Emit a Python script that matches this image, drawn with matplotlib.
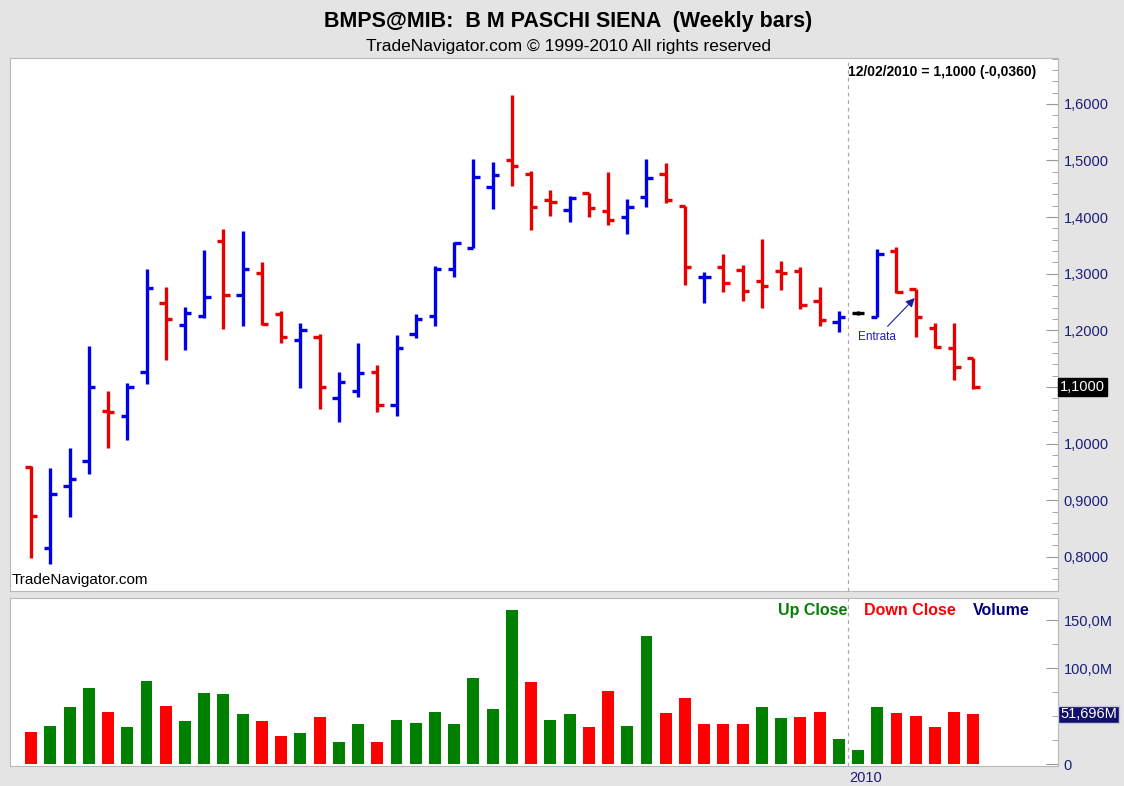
import numpy as np
import matplotlib
matplotlib.use('Agg')
import matplotlib.pyplot as plt
from matplotlib.ticker import MultipleLocator, FuncFormatter

plt.rcParams['font.family'] = ['Liberation Sans', 'DejaVu Sans']

# ── Dati: barre settimanali BMPS (ultima = 12/02/2010) ───────
opens = [0.958, 0.816, 0.925, 0.969, 1.058, 1.049, 1.126, 1.249, 1.209, 1.226,
         1.358, 1.262, 1.302, 1.228, 1.183, 1.188, 1.080, 1.092, 1.127, 1.068,
         1.193, 1.226, 1.308, 1.346, 1.454, 1.501, 1.476, 1.430, 1.413, 1.443,
         1.410, 1.400, 1.435, 1.476, 1.420, 1.294, 1.311, 1.307, 1.287, 1.304,
         1.304, 1.252, 1.214, 1.231, 1.223, 1.341, 1.273, 1.204, 1.168, 1.152]
highs = [0.960, 0.956, 0.993, 1.172, 1.092, 1.107, 1.308, 1.276, 1.242, 1.342,
         1.379, 1.376, 1.320, 1.235, 1.213, 1.193, 1.126, 1.177, 1.138, 1.192,
         1.229, 1.313, 1.356, 1.502, 1.498, 1.616, 1.482, 1.447, 1.438, 1.443,
         1.479, 1.432, 1.503, 1.495, 1.420, 1.303, 1.334, 1.316, 1.361, 1.323,
         1.311, 1.277, 1.234, 1.234, 1.344, 1.347, 1.273, 1.213, 1.213, 1.152]
lows = [0.798, 0.787, 0.871, 0.946, 0.992, 1.006, 1.105, 1.148, 1.165, 1.221,
        1.202, 1.208, 1.210, 1.177, 1.098, 1.061, 1.038, 1.083, 1.055, 1.049,
        1.187, 1.207, 1.294, 1.345, 1.414, 1.455, 1.377, 1.402, 1.392, 1.400,
        1.386, 1.370, 1.417, 1.425, 1.280, 1.249, 1.267, 1.252, 1.239, 1.271,
        1.237, 1.208, 1.197, 1.227, 1.223, 1.266, 1.189, 1.168, 1.112, 1.096]
closes = [0.872, 0.911, 0.938, 1.100, 1.055, 1.100, 1.274, 1.220, 1.231, 1.258,
          1.262, 1.308, 1.211, 1.188, 1.200, 1.100, 1.108, 1.124, 1.068, 1.168,
          1.220, 1.308, 1.354, 1.470, 1.474, 1.490, 1.417, 1.427, 1.433, 1.416,
          1.395, 1.418, 1.469, 1.430, 1.311, 1.295, 1.283, 1.270, 1.279, 1.302,
          1.245, 1.218, 1.224, 1.231, 1.335, 1.267, 1.223, 1.171, 1.136, 1.100]
volumi = [33, 40, 59, 79, 54.5, 38.6, 87, 61, 44.5, 74.5,
          73, 52, 44.5, 29, 32, 49, 23, 42, 23, 46,
          43, 54.5, 42, 90, 57.6, 160, 85, 46, 52, 38.6,
          76, 40, 133, 53, 68.6, 42, 42, 42, 59, 47.6,
          49, 54.5, 26, 14.5, 59, 53, 50, 38.6, 54.5, 51.696]
chiusura_prec = 0.905      # chiusura della settimana prima della prima barra
idx_2010 = 43              # prima barra del 2010
data_ultima = '12/02/2010'

W, H = 1124, 786
BLU, ROSSO, NERO = '#0000e6', '#e60000', '#000000'
VERDE_V, ROSSO_V = '#008000', '#ff0000'
TESTO_ASSE = '#1c1c7a'
FONDO = '#e4e4e4'


def virgola(v, dec):
    return f'{v:.{dec}f}'.replace('.', ',')


x = np.arange(len(closes))
o, h, l, c = map(np.array, (opens, highs, lows, closes))
col_barre = np.where(c > o, BLU, np.where(c < o, ROSSO, NERO))
c_prec = np.concatenate([[chiusura_prec], c[:-1]])
col_vol = np.where(c >= c_prec, VERDE_V, ROSSO_V)

fig = plt.figure(figsize=(W / 100, H / 100), dpi=100, facecolor=FONDO)

fig.text(568 / W, 1 - 22 / H, 'BMPS@MIB:  B M PASCHI SIENA  (Weekly bars)',
         ha='center', va='center', fontsize=15.5, fontweight='bold')
fig.text(569 / W, 1 - 47 / H, 'TradeNavigator.com \u00a9 1999-2010 All rights reserved',
         ha='center', va='center', fontsize=12.5)

# ── Pannello prezzi ─────────────────────────────────────────
ax = fig.add_axes([10 / W, (H - 591) / H, 1048 / W, 533 / H])
ax.set_facecolor('white')
tick_len = 0.33
ax.vlines(x, l, h, colors=col_barre, linewidth=2.4)
ax.hlines(o, x - tick_len, x, colors=col_barre, linewidth=2.4)
ax.hlines(c, x, x + tick_len, colors=col_barre, linewidth=2.4)
ax.axvline(idx_2010 - 0.5, color='#a8a8a8', linewidth=0.9, linestyle=(0, (3, 3)))

ax.set_xlim(-1.1, 53.4)
ax.set_ylim(0.7396, 1.681)
ax.yaxis.tick_right()
ax.yaxis.set_major_locator(MultipleLocator(0.1))
ax.yaxis.set_minor_locator(MultipleLocator(0.02))
# l'etichetta coperta dal riquadro dell'ultimo prezzo non viene scritta
ax.yaxis.set_major_formatter(FuncFormatter(
    lambda v, p: '' if abs(v - c[-1]) < 0.02 else virgola(v, 4)))
ax.tick_params(axis='y', which='major', direction='in', length=9, color='#999999',
               labelcolor=TESTO_ASSE, labelsize=10.5, pad=4)
ax.tick_params(axis='y', which='minor', direction='in', length=4, color='#999999')
ax.set_xticks([])
for s in ax.spines.values():
    s.set_color('#b8b8b8')
    s.set_linewidth(0.8)

ax.text(1.002, c[-1], virgola(c[-1], 4), transform=ax.get_yaxis_transform(),
        ha='left', va='center', color='white', fontsize=10.5,
        bbox=dict(facecolor='black', edgecolor='black', pad=1.2))
ax.text(0.979, 0.987, f'{data_ultima} = {virgola(c[-1], 4)} ({virgola(c[-1] - c[-2], 4)})',
        transform=ax.transAxes, ha='right', va='top', fontsize=10, fontweight='bold')
ax.text(0.002, 0.02, 'TradeNavigator.com', transform=ax.transAxes,
        ha='left', va='center', fontsize=11)

ax.annotate('Entrata', xy=(45.95, 1.257), xytext=(44.0, 1.188),
            ha='center', va='center', color='#1c1cc8', fontsize=8.5,
            arrowprops=dict(arrowstyle='-|>', color='#1c1c9a', lw=0.8,
                            mutation_scale=13, shrinkA=2, shrinkB=0))

# ── Pannello volumi ─────────────────────────────────────────
av = fig.add_axes([10 / W, 20 / H, 1048 / W, 168 / H])
av.set_facecolor('white')
av.bar(x, volumi, width=0.62, color=col_vol)
av.axvline(idx_2010 - 0.5, color='#a8a8a8', linewidth=0.9, linestyle=(0, (3, 3)))
av.set_xlim(ax.get_xlim())
av.set_ylim(-2, 173)
av.yaxis.tick_right()
av.set_yticks([0, 100, 150])
av.yaxis.set_minor_locator(MultipleLocator(25))
av.yaxis.set_major_formatter(FuncFormatter(lambda v, p: '0' if v == 0 else virgola(v, 1) + 'M'))
av.tick_params(axis='y', which='major', direction='in', length=9, color='#999999',
               labelcolor=TESTO_ASSE, labelsize=10.5, pad=4)
av.tick_params(axis='y', which='minor', direction='in', length=4, color='#999999')
av.set_xticks([])
for s in av.spines.values():
    s.set_color('#b8b8b8')
    s.set_linewidth(0.8)

av.text(1.002, volumi[-1], virgola(volumi[-1], 3) + 'M', transform=av.get_yaxis_transform(),
        ha='left', va='center', color='white', fontsize=10.5,
        bbox=dict(facecolor='#10106a', edgecolor='#c8c8e0', pad=1.2))
av.text(idx_2010 - 0.45, -0.07, '2010', transform=av.get_xaxis_transform(),
        ha='left', va='center', color=TESTO_ASSE, fontsize=10.5)

t1 = av.text(0.733, 0.97, 'Up Close', transform=av.transAxes, ha='left', va='top',
             color=VERDE_V, fontsize=11.5, fontweight='bold')
t2 = av.annotate('Down Close', xy=(1, 0), xycoords=t1, xytext=(12, 0),
                 textcoords='offset points', ha='left', va='bottom',
                 color=ROSSO_V, fontsize=11.5, fontweight='bold')
av.annotate('Volume', xy=(1, 0), xycoords=t2, xytext=(12, 0),
            textcoords='offset points', ha='left', va='bottom',
            color='#000080', fontsize=11.5, fontweight='bold')

fig.savefig('out.png', dpi=100, facecolor=FONDO)
